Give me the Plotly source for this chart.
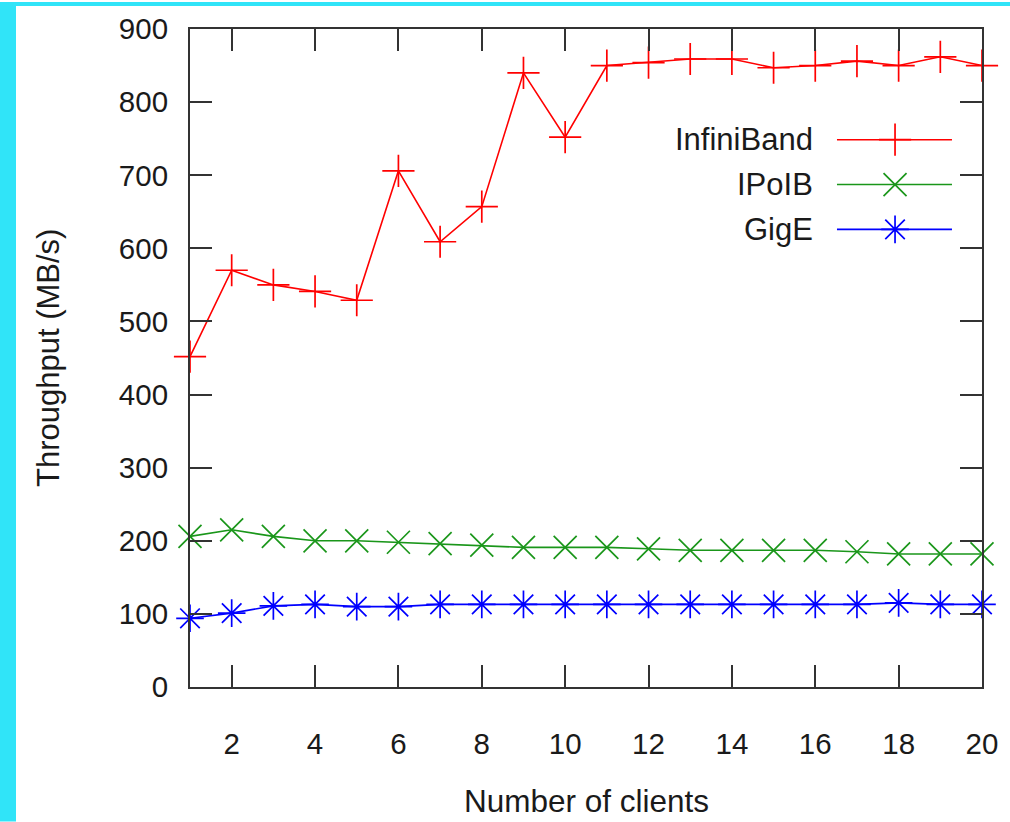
import plotly.graph_objects as go

# Throughput measured for 1..20 concurrent clients
clients = list(range(1, 21))
infiniband = [452, 570, 550, 541, 529, 706, 609, 657, 840, 752,
              850, 854, 859, 859, 847, 850, 856, 850, 862, 850]
ipoib = [206, 215, 206, 200, 200, 198, 196, 194, 191, 191,
         191, 189, 187, 187, 187, 187, 185, 182, 182, 182]
gige = [94, 101, 111, 113, 110, 110, 113, 113, 113, 113,
        113, 113, 113, 113, 113, 113, 113, 115, 113, 113]

series_names = ["InfiniBand", "IPoIB", "GigE"]
series_colors = ["#ff0000", "#1a961a", "#0000ff"]
series_symbols = ["cross-thin-open", "x-thin-open", "asterisk-open"]

x_ticks = list(range(2, 21, 2))
y_ticks = list(range(0, 901, 100))

FONT = "Liberation Sans, Arial, sans-serif"
TEXT = "#1a1a1a"
AXIS = "#333333"

fig = go.Figure()

for name, ys, color, sym in zip(series_names, [infiniband, ipoib, gige],
                                series_colors, series_symbols):
    fig.add_trace(go.Scatter(
        x=clients, y=ys, name=name, mode="lines+markers",
        line=dict(color=color, width=1.6),
        marker=dict(symbol=sym, size=23, color=color,
                    line=dict(color=color, width=1.7)),
        cliponaxis=False, showlegend=False,
    ))

# Key drawn on an overlay axis spanning the plot area (0..1 in both directions)
key_rows = [0.8318, 0.7636, 0.6955]
key_line = [0.8169, 0.9621]
key_mark = 0.8902
key_text_x = 0.7891
for name, color, sym, yk in zip(series_names, series_colors, series_symbols, key_rows):
    fig.add_trace(go.Scatter(
        x=key_line, y=[yk, yk], mode="lines", xaxis="x2", yaxis="y2",
        line=dict(color=color, width=1.6), showlegend=False, hoverinfo="skip",
    ))
    fig.add_trace(go.Scatter(
        x=[key_mark], y=[yk], mode="markers", xaxis="x2", yaxis="y2",
        marker=dict(symbol=sym, size=23, color=color,
                    line=dict(color=color, width=1.7)),
        showlegend=False, hoverinfo="skip",
    ))
    fig.add_annotation(x=key_text_x, y=yk, xref="x2", yref="y2", text=name,
                       showarrow=False, xanchor="right", yanchor="middle",
                       font=dict(family=FONT, size=31, color=TEXT))

axis_common = dict(
    showline=True, linecolor=AXIS, linewidth=2, mirror="ticks",
    ticks="inside", ticklen=22, tickwidth=1.5, tickcolor=AXIS,
    showgrid=False, zeroline=False,
    tickfont=dict(family=FONT, size=29.5, color=TEXT),
)

fig.update_layout(
    width=1010, height=822,
    margin=dict(l=190, r=28, t=27, b=135),
    paper_bgcolor="white", plot_bgcolor="white",
    xaxis=dict(range=[1, 20], tickvals=x_ticks, ticklabelstandoff=30, **axis_common),
    yaxis=dict(range=[0, 900], tickvals=y_ticks, ticklabelstandoff=14, **axis_common),
    xaxis2=dict(range=[0, 1], overlaying="x", visible=False, fixedrange=True),
    yaxis2=dict(range=[0, 1], overlaying="y", visible=False, fixedrange=True),
    showlegend=False,
)

# Axis titles
fig.add_annotation(x=0.5, y=-0.1727, xref="paper", yref="paper",
                   text="Number of clients", showarrow=False,
                   xanchor="center", yanchor="middle",
                   font=dict(family=FONT, size=31.5, color=TEXT))
fig.add_annotation(x=-0.1793, y=0.5, xref="paper", yref="paper",
                   text="Throughput (MB/s)", showarrow=False, textangle=-90,
                   xanchor="center", yanchor="middle",
                   font=dict(family=FONT, size=31, color=TEXT))

# Cyan frame strips along the left and top edges of the page
CYAN = "#30e4f8"
fig.add_shape(type="rect", xref="paper", yref="paper", layer="below",
              x0=-190 / 792, x1=-174 / 792, y0=-135 / 660, y1=687 / 660,
              fillcolor=CYAN, line=dict(width=0))
fig.add_shape(type="rect", xref="paper", yref="paper", layer="below",
              x0=-190 / 792, x1=820 / 792, y0=683 / 660, y1=687 / 660,
              fillcolor=CYAN, line=dict(width=0))

fig.write_html("out.html")
